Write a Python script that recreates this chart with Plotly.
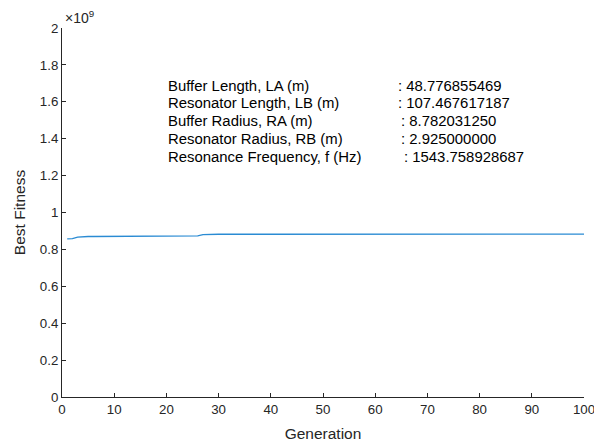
import plotly.graph_objects as go

# Generations and best fitness (x 1e9)
generation = list(range(1, 101))
best_fitness_e9 = [
    0.857, 0.858, 0.866, 0.870, 0.870, 0.870, 0.870, 0.870, 0.870, 0.871,
    0.871, 0.871, 0.871, 0.871, 0.871, 0.871, 0.871, 0.871, 0.872, 0.872,
    0.872, 0.872, 0.872, 0.872, 0.873, 0.873, 0.880, 0.882, 0.882, 0.882,
    0.882, 0.882, 0.882, 0.882, 0.882, 0.882, 0.882, 0.883, 0.883, 0.883,
    0.883, 0.883, 0.883, 0.883, 0.883, 0.883, 0.883, 0.883, 0.883, 0.883,
    0.883, 0.883, 0.883, 0.883, 0.883, 0.883, 0.883, 0.883, 0.883, 0.883,
    0.883, 0.883, 0.883, 0.883, 0.883, 0.883, 0.883, 0.883, 0.883, 0.883,
    0.883, 0.883, 0.883, 0.883, 0.883, 0.883, 0.883, 0.883, 0.883, 0.883,
    0.883, 0.883, 0.883, 0.883, 0.883, 0.883, 0.883, 0.883, 0.883, 0.883,
    0.883, 0.883, 0.883, 0.883, 0.883, 0.883, 0.883, 0.883, 0.883, 0.883,
]
best_fitness = [v * 1e9 for v in best_fitness_e9]

x_ticks = [0, 10, 20, 30, 40, 50, 60, 70, 80, 90, 100]
y_tick_labels = ["0", "0.2", "0.4", "0.6", "0.8", "1", "1.2", "1.4", "1.6", "1.8", "2"]
y_tick_vals = [i * 0.2e9 for i in range(11)]

param_names = [
    "Buffer Length, LA (m)",
    "Resonator Length, LB (m)",
    "Buffer Radius, RA (m)",
    "Resonator Radius, RB (m)",
    "Resonance Frequency, f (Hz)",
]
param_values = [
    ": 48.776855469",
    ": 107.467617187",
    ": 8.782031250",
    ": 2.925000000",
    ": 1543.758928687",
]

FONT = "Liberation Sans, Arial, Helvetica, sans-serif"
GREY = "#262626"

fig = go.Figure()
fig.add_trace(go.Scatter(
    x=generation, y=best_fitness, mode="lines",
    line=dict(color="#2a8bd3", width=1.3),
    showlegend=False, hoverinfo="skip",
))

# The page body has an 8px margin; compensate so the plot sits where it should.
OFF = 8
W, H = 602 - OFF, 443 - OFF
L, R, T, B = 62 - OFF, 18, 28 - OFF, 46
pw, ph = W - L - R, H - T - B

def py2paper(py):
    return (H - B - (py - OFF)) / ph

def px2paper(px):
    return (px - OFF - L) / pw

annotations = []
row_y = [86, 103.5, 121, 139, 157]
col2_x = [396, 396, 399, 399, 402]
for name, val, yy, cx in zip(param_names, param_values, row_y, col2_x):
    annotations.append(dict(
        x=px2paper(166), y=py2paper(yy), xref="paper", yref="paper",
        text=name, showarrow=False, xanchor="left", yanchor="middle",
        font=dict(family=FONT, size=14.9, color="#000000"),
    ))
    annotations.append(dict(
        x=px2paper(cx), y=py2paper(yy), xref="paper", yref="paper",
        text=val, showarrow=False, xanchor="left", yanchor="middle",
        font=dict(family=FONT, size=14.9, color="#000000"),
    ))

annotations.append(dict(
    x=px2paper(63), y=py2paper(17), xref="paper", yref="paper",
    text="×10<sup>9</sup>", showarrow=False, xanchor="left", yanchor="middle",
    font=dict(family=FONT, size=14, color=GREY),
))

fig.update_layout(
    width=W, height=H,
    margin=dict(l=L, r=R, t=T, b=B, pad=0, autoexpand=False),
    paper_bgcolor="white", plot_bgcolor="white",
    font=dict(family=FONT, color=GREY, size=13),
    annotations=annotations,
    xaxis=dict(
        range=[0, 100], tickvals=x_ticks, ticks="inside", ticklen=4,
        tickcolor=GREY, showline=True, linecolor=GREY, linewidth=1,
        showgrid=False, zeroline=False, mirror=False, automargin=False,
        tickfont=dict(family=FONT, size=13.3, color=GREY),
        title=dict(text="Generation", font=dict(family=FONT, size=15.5, color=GREY), standoff=12),
    ),
    yaxis=dict(
        range=[0, 2e9], tickvals=y_tick_vals, ticktext=y_tick_labels,
        ticks="inside", ticklen=4, tickcolor=GREY,
        showline=True, linecolor=GREY, linewidth=1,
        showgrid=False, zeroline=False, mirror=False, automargin=False,
        tickfont=dict(family=FONT, size=13.3, color=GREY),
        title=dict(text="Best Fitness", font=dict(family=FONT, size=15.5, color=GREY), standoff=10),
    ),
)

fig.write_html("out.html")
